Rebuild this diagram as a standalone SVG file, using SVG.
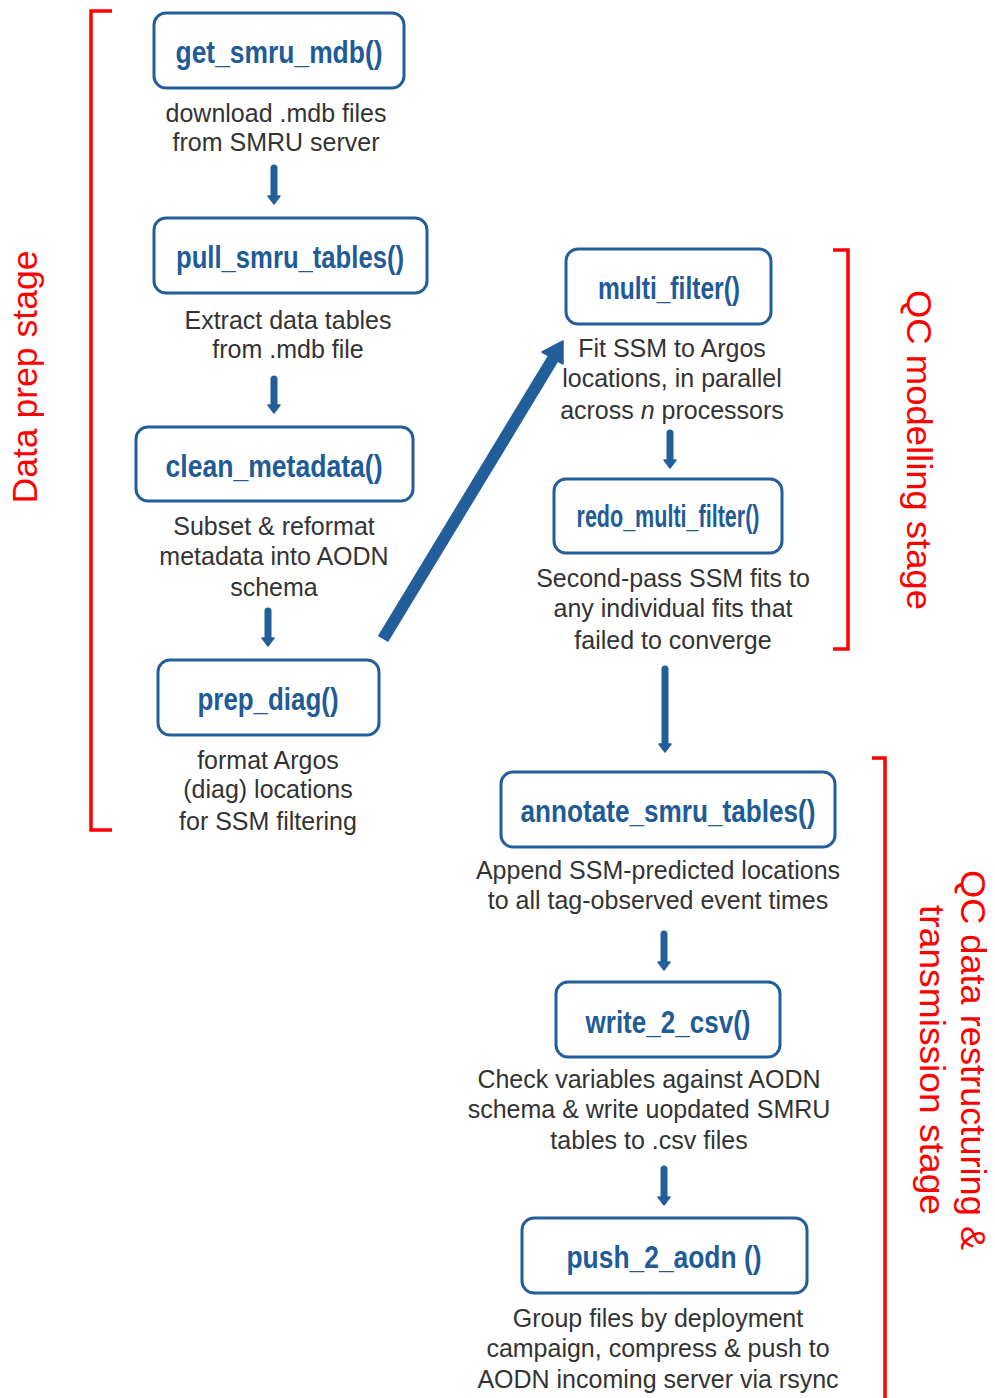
<svg xmlns="http://www.w3.org/2000/svg" width="995" height="1398" viewBox="0 0 995 1398">
<style>
.box{fill:#fff;stroke:#225e9a;stroke-width:3}
.lbl{font-family:"Liberation Sans",Arial,sans-serif;font-weight:bold;font-size:32px;fill:#1f5b96;text-anchor:middle}
.desc{font-family:"Liberation Sans",Arial,sans-serif;font-size:25px;fill:#333;text-anchor:middle}
.shaft{stroke:#225e9a;stroke-width:7;stroke-linecap:round;fill:none}
.head{fill:#225e9a;stroke:#225e9a;stroke-width:1.5;stroke-linejoin:round}
.brk{fill:none;stroke:#ff0000;stroke-width:3.5}
.stage{font-family:"Liberation Sans",Arial,sans-serif;font-size:35px;fill:#ff0000;text-anchor:middle}
</style>
<g id="brackets">
<path class="brk" d="M112,11 H91 V830 H112"/>
<path class="brk" d="M833,250 H848 V649 H833"/>
<path class="brk" d="M872,758 H885 V1398"/>
<text class="stage" font-size="33" transform="translate(37,377) rotate(-90)" textLength="253" lengthAdjust="spacingAndGlyphs">Data prep stage</text>
<text class="stage" transform="translate(907,450) rotate(90)" textLength="320" lengthAdjust="spacingAndGlyphs">QC modelling stage</text>
<text class="stage" font-size="34" transform="translate(961,1060) rotate(90)" textLength="380" lengthAdjust="spacingAndGlyphs">QC data restructuring &amp;</text>
<text class="stage" font-size="34" transform="translate(920,1060) rotate(90)" textLength="310" lengthAdjust="spacingAndGlyphs">transmission stage</text>
</g>
<g id="connectors">
<line class="shaft" x1="274" y1="168" x2="274" y2="197"/><polygon class="head" points="268,196 280,196 274,204"/>
<line class="shaft" x1="274" y1="379" x2="274" y2="406"/><polygon class="head" points="268,405 280,405 274,413"/>
<line class="shaft" x1="268" y1="611" x2="268" y2="639"/><polygon class="head" points="262,638 274,638 268,646"/>
<line class="shaft" x1="670" y1="433" x2="670" y2="461"/><polygon class="head" points="664,460 676,460 670,468"/>
<line class="shaft" x1="665" y1="669" x2="665" y2="745"/><polygon class="head" points="659,744 671,744 665,752"/>
<line class="shaft" x1="664" y1="934" x2="664" y2="963"/><polygon class="head" points="658,962 670,962 664,970"/>
<line class="shaft" x1="664" y1="1169" x2="664" y2="1198"/><polygon class="head" points="658,1197 670,1197 664,1205"/>
<line x1="383" y1="639" x2="554" y2="357" stroke="#225e9a" stroke-width="12"/>
<polygon class="head" points="563,341 563,364 542,352"/>
</g>
<g id="get_smru_mdb">
<rect class="box" x="154" y="13" width="250" height="75" rx="12"/>
<text class="lbl" x="279" y="63" textLength="207" lengthAdjust="spacingAndGlyphs">get_smru_mdb()</text>
<text class="desc" x="276" y="122">download .mdb files</text>
<text class="desc" x="276" y="151">from SMRU server</text>
</g>
<g id="pull_smru_tables">
<rect class="box" x="154" y="218" width="273" height="75" rx="12"/>
<text class="lbl" x="290" y="268" textLength="228" lengthAdjust="spacingAndGlyphs">pull_smru_tables()</text>
<text class="desc" x="288" y="329">Extract data tables</text>
<text class="desc" x="288" y="358">from .mdb file</text>
</g>
<g id="clean_metadata">
<rect class="box" x="136" y="427" width="277" height="74" rx="12"/>
<text class="lbl" x="274" y="477" textLength="217" lengthAdjust="spacingAndGlyphs">clean_metadata()</text>
<text class="desc" x="274" y="535">Subset &amp; reformat</text>
<text class="desc" x="274" y="565">metadata into AODN</text>
<text class="desc" x="274" y="596">schema</text>
</g>
<g id="prep_diag">
<rect class="box" x="158" y="660" width="221" height="75" rx="12"/>
<text class="lbl" x="268" y="710" textLength="141" lengthAdjust="spacingAndGlyphs">prep_diag()</text>
<text class="desc" x="268" y="769">format Argos</text>
<text class="desc" x="268" y="798">(diag) locations</text>
<text class="desc" x="268" y="830">for SSM filtering</text>
</g>
<g id="multi_filter">
<rect class="box" x="566" y="249" width="205" height="75" rx="12"/>
<text class="lbl" x="669" y="299" textLength="142" lengthAdjust="spacingAndGlyphs">multi_filter()</text>
<text class="desc" x="672" y="357">Fit SSM to Argos</text>
<text class="desc" x="672" y="387">locations, in parallel</text>
<text class="desc" x="672" y="419">across <tspan font-style="italic">n</tspan> processors</text>
</g>
<g id="redo_multi_filter">
<rect class="box" x="554" y="479" width="228" height="74" rx="12"/>
<text class="lbl" x="668" y="527" font-size="27" textLength="183" lengthAdjust="spacingAndGlyphs">redo_multi_filter()</text>
<text class="desc" x="673" y="587">Second-pass SSM fits to</text>
<text class="desc" x="673" y="617">any individual fits that</text>
<text class="desc" x="673" y="649">failed to converge</text>
</g>
<g id="annotate_smru_tables">
<rect class="box" x="501" y="772" width="334" height="75" rx="12"/>
<text class="lbl" x="668" y="822" textLength="295" lengthAdjust="spacingAndGlyphs">annotate_smru_tables()</text>
<text class="desc" x="658" y="879">Append SSM-predicted locations</text>
<text class="desc" x="658" y="909">to all tag-observed event times</text>
</g>
<g id="write_2_csv">
<rect class="box" x="556" y="982" width="224" height="75" rx="12"/>
<text class="lbl" x="668" y="1033" textLength="165" lengthAdjust="spacingAndGlyphs">write_2_csv()</text>
<text class="desc" x="649" y="1088">Check variables against AODN</text>
<text class="desc" x="649" y="1118">schema &amp; write uopdated SMRU</text>
<text class="desc" x="649" y="1149">tables to .csv files</text>
</g>
<g id="push_2_aodn">
<rect class="box" x="522" y="1218" width="285" height="75" rx="12"/>
<text class="lbl" x="664" y="1268" textLength="195" lengthAdjust="spacingAndGlyphs">push_2_aodn ()</text>
<text class="desc" x="658" y="1327">Group files by deployment</text>
<text class="desc" x="658" y="1357">campaign, compress &amp; push to</text>
<text class="desc" x="658" y="1388">AODN incoming server via rsync</text>
</g>
</svg>
